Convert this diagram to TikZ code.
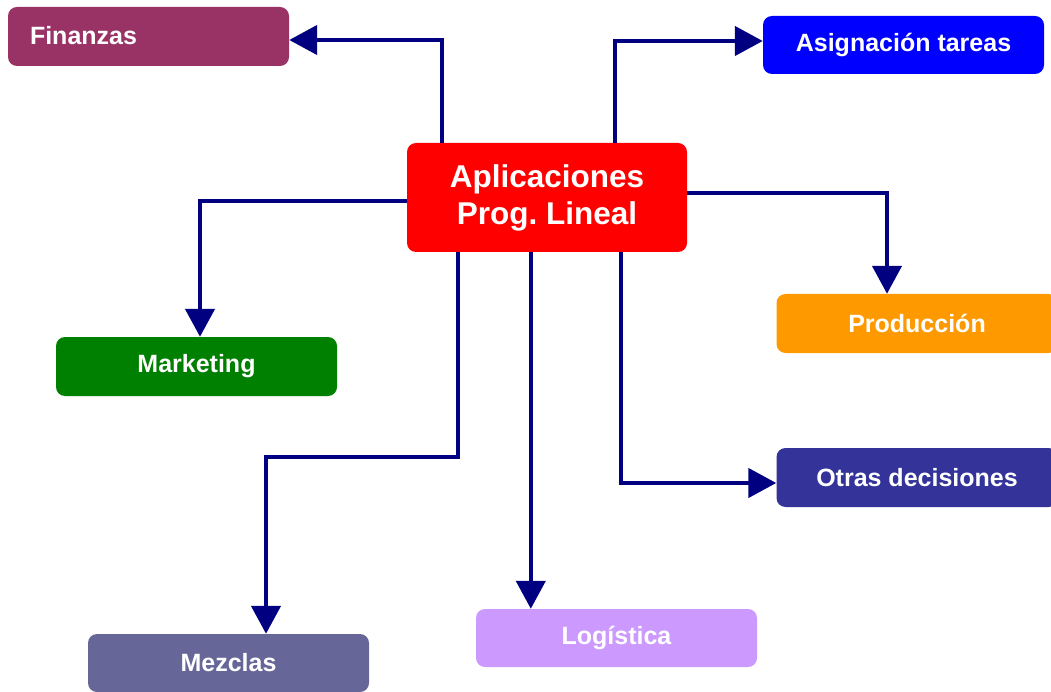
\documentclass[tikz,border=0pt]{standalone}
\usepackage{fontspec}
\setmainfont{Liberation Sans}
\usetikzlibrary{arrows.meta}
\definecolor{finanzas}{HTML}{993366}
\definecolor{asignacion}{HTML}{0000FF}
\definecolor{aplic}{HTML}{FF0000}
\definecolor{produccion}{HTML}{FF9900}
\definecolor{marketing}{HTML}{008000}
\definecolor{otras}{HTML}{333399}
\definecolor{mezclas}{HTML}{666699}
\definecolor{logistica}{HTML}{CC99FF}
\definecolor{navy}{HTML}{000080}

\begin{document}
\begin{tikzpicture}[x=1pt, y=-1pt,
    box/.style={rounded corners=9pt, minimum width=281pt, minimum height=59pt, inner sep=0pt,
        text=white, font=\fontsize{25}{30}\selectfont\bfseries},
    arr/.style={navy, line width=4.5pt, -{Triangle[length=28pt, width=29pt]}}]
    \useasboundingbox (0,0) rectangle (1051,692);
    \node[box, fill=aplic, minimum width=280pt, minimum height=109pt, align=center,
        font=\fontsize{31.5}{37}\selectfont\bfseries] (main) at (547,197.5) {Aplicaciones\\Prog.\ Lineal};
    \node[box, fill=finanzas, text width=237pt, align=left, inner xsep=22pt] (fin) at (148.5,36.5) {\raisebox{3pt}{Finanzas}};
    \node[box, fill=asignacion, minimum height=58pt] (asg) at (903.5,45) {Asignación tareas};
    \node[box, fill=produccion] (prod) at (917,323.5) {Producción};
    \node[box, fill=marketing] (mkt) at (196.5,366.5) {Marketing};
    \node[box, fill=otras] (oth) at (917,477.5) {Otras decisiones};
    \node[box, fill=mezclas, minimum height=58pt] (mez) at (228.5,663) {Mezclas};
    \node[box, fill=logistica, minimum height=58pt] (log) at (616.5,638) {Logística};
    % connectors
    \coordinate (m1) at ([xshift=35pt]main.north west);
    \coordinate (m2) at ([xshift=208pt]main.north west);
    \coordinate (m3) at ([xshift=51pt]main.south west);
    \coordinate (m4) at ([xshift=124pt]main.south west);
    \coordinate (m5) at ([xshift=214pt]main.south west);
    \draw[arr] (m1) |- ([yshift=-3.5pt]fin.east);
    \draw[arr] (m2) |- ([yshift=4pt]asg.west);
    \draw[arr] ([yshift=4.5pt]main.east) -| ([xshift=-30pt]prod.north);
    \draw[arr] ([yshift=-3.5pt]main.west) -| ([xshift=3.5pt]mkt.north);
    \draw[arr] (m3) -- ++(0,205) -| ([xshift=37.5pt]mez.north);
    \draw[arr] (m4) -- (m4 |- log.north);
    \draw[arr] (m5) |- ([yshift=-5.5pt]oth.west);
\end{tikzpicture}
\end{document}
